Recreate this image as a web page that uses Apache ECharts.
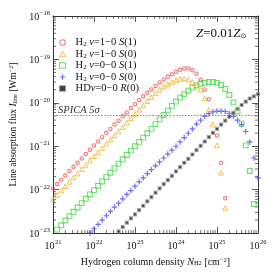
<!DOCTYPE html>
<html><head><meta charset="utf-8">
<script src="https://cdn.jsdelivr.net/npm/echarts@6/dist/echarts.min.js"></script>
<style>html,body{margin:0;padding:0;background:#fff}#c{width:273px;height:273px}</style>
</head><body><div id="c"></div>
<script>
// log10 of column density N_H2 [cm^-2] and log10 of line flux [W m^-2]
const nRed = [21.0,21.1,21.2,21.3,21.4,21.5,21.6,21.7,21.8,21.9,22.0,22.1,22.2,22.3,22.4,22.5,22.6,22.7,22.8,22.9,23.0,23.1,23.2,23.3,23.4,23.5,23.6,23.7,23.8,23.9,24.0,24.1,24.2,24.3,24.4,24.5,24.6,24.7,24.8,25.0,25.1,25.2];
const iRed = [-21.97,-21.87,-21.77,-21.67,-21.57,-21.47,-21.38,-21.28,-21.18,-21.08,-20.98,-20.89,-20.79,-20.69,-20.60,-20.50,-20.41,-20.31,-20.22,-20.12,-20.03,-19.94,-19.85,-19.77,-19.69,-19.61,-19.53,-19.46,-19.40,-19.34,-19.29,-19.24,-19.21,-19.21,-19.25,-19.33,-19.47,-19.69,-19.92,-20.75,-21.38,-22.20];

const nOrange = [21.0,21.1,21.2,21.3,21.4,21.5,21.6,21.7,21.8,21.9,22.0,22.1,22.2,22.3,22.4,22.5,22.6,22.7,22.8,22.9,23.0,23.1,23.2,23.3,23.4,23.5,23.6,23.7,23.8,23.9,24.0,24.1,24.2,24.3,24.4,24.5,24.6,24.7,24.8,24.9,25.0,25.1,25.2];
const iOrange = [-22.22,-22.12,-22.02,-21.92,-21.82,-21.72,-21.63,-21.53,-21.43,-21.33,-21.23,-21.14,-21.04,-20.94,-20.85,-20.75,-20.66,-20.56,-20.46,-20.36,-20.26,-20.16,-20.06,-19.96,-19.87,-19.78,-19.70,-19.63,-19.57,-19.52,-19.48,-19.45,-19.44,-19.46,-19.52,-19.60,-19.70,-19.90,-20.16,-20.50,-20.98,-21.61,-22.42];

const nGreen = [21.0,21.1,21.2,21.3,21.4,21.5,21.6,21.7,21.8,21.9,22.0,22.1,22.2,22.3,22.4,22.5,22.6,22.7,22.8,22.9,23.0,23.1,23.2,23.3,23.4,23.5,23.6,23.7,23.8,23.9,24.0,24.1,24.2,24.3,24.4,24.5,24.6,24.7,24.8,24.9,25.0,25.1,25.2,25.3,25.4,25.5,25.6,25.7,25.8,25.9];
const iGreen = [-23.02,-22.92,-22.82,-22.71,-22.61,-22.51,-22.41,-22.31,-22.21,-22.11,-22.01,-21.91,-21.81,-21.71,-21.61,-21.51,-21.40,-21.30,-21.20,-21.10,-21.00,-20.90,-20.80,-20.70,-20.60,-20.49,-20.38,-20.28,-20.18,-20.07,-19.97,-19.88,-19.80,-19.72,-19.65,-19.60,-19.56,-19.54,-19.52,-19.52,-19.54,-19.59,-19.68,-19.82,-19.99,-20.20,-20.48,-20.98,-21.57,-22.33];

const nBlue = [21.9,22.0,22.1,22.2,22.3,22.4,22.5,22.6,22.7,22.8,22.9,23.0,23.1,23.2,23.3,23.4,23.5,23.6,23.7,23.8,23.9,24.0,24.1,24.2,24.3,24.4,24.5,24.6,24.7,24.8,24.9,25.0,25.1,25.2,25.3,25.4,25.5,25.6,25.7,25.8,25.9,26.0];
const iBlue = [-23.00,-22.90,-22.80,-22.70,-22.60,-22.50,-22.40,-22.31,-22.21,-22.11,-22.02,-21.92,-21.82,-21.73,-21.63,-21.54,-21.45,-21.36,-21.27,-21.18,-21.09,-21.00,-20.90,-20.80,-20.70,-20.60,-20.49,-20.40,-20.31,-20.25,-20.21,-20.19,-20.19,-20.20,-20.24,-20.31,-20.40,-20.50,-20.66,-20.90,-21.27,-21.73];

const nBlack = [22.6,22.7,22.8,22.9,23.0,23.1,23.2,23.3,23.4,23.5,23.6,23.7,23.8,23.9,24.0,24.1,24.2,24.3,24.4,24.5,24.6,24.7,24.8,24.9,25.0,25.1,25.2,25.3,25.4,25.5,25.6,25.7,25.8,25.9,26.0];
const iBlack = [-22.96,-22.86,-22.76,-22.66,-22.57,-22.47,-22.37,-22.27,-22.17,-22.07,-21.97,-21.87,-21.78,-21.68,-21.58,-21.48,-21.38,-21.29,-21.19,-21.09,-20.99,-20.89,-20.79,-20.69,-20.60,-20.50,-20.41,-20.32,-20.23,-20.14,-20.05,-19.97,-19.90,-19.85,-19.80];

const seriesNames = ['h2_10_S1','h2_10_S0','h2_00_S1','h2_00_S0','hd_00_R0'];
const legendLabels = {
  'h2_10_S1': 'H{sub|2} {i|v}=1\u22120 {i|S}(1)',
  'h2_10_S0': 'H{sub|2} {i|v}=1\u22120 {i|S}(0)',
  'h2_00_S1': 'H{sub|2} {i|v}=0\u22120 {i|S}(1)',
  'h2_00_S0': 'H{sub|2} {i|v}=0\u22120 {i|S}(0)',
  'hd_00_R0': 'HD{i|v}=0\u22120 {i|R}(0)'
};
const spicaLimitLog = -20.28;   // log10(5.2e-21)
const xMinExp = 21, xMaxExp = 26, yMinExp = -23, yMaxExp = -18;

const FONT = 'Liberation Serif';
const AX = '#333';

function toPts(nArr, iArr){ return nArr.map((n,k)=>[n, iArr[k]]); }

// minor tick positions (2..9 times each decade) in log space
const minorX = [], minorY = [];
for (let d = xMinExp; d < xMaxExp; d++) for (let m = 2; m <= 9; m++) minorX.push([d + Math.log10(m), -20]);
for (let d = yMinExp; d < yMaxExp; d++) for (let m = 2; m <= 9; m++) minorY.push([23, d + Math.log10(m)]);

const supFmt = v => { const e = Math.round(v); return '{b|10}{s|' + (e<0 ? '\u2212' + (-e) : e) + '}'; };
const labRich = {
  b: {fontFamily: FONT, fontSize: 10, color: '#111', lineHeight: 12, verticalAlign:'bottom'},
  s: {fontFamily: FONT, fontSize: 6.5, color: '#111', lineHeight: 12, verticalAlign:'top', padding:[0,0,0,0.5]}
};
const nameRich = (fs) => ({
  i: {fontFamily: FONT, fontSize: fs, fontStyle: 'italic', color:'#111'},
  sub: {fontFamily: FONT, fontSize: fs*0.65, color:'#111', verticalAlign:'bottom', lineHeight: 10, padding:[4,0,0,0]},
  sup: {fontFamily: FONT, fontSize: fs*0.65, color:'#111', verticalAlign:'top', lineHeight: 10, padding:[0,0,4,0]}
});

function axisCommon(extra){
  return Object.assign({
    type: 'value', interval: 1,
    axisLine: {show: true, onZero: false, lineStyle: {color: AX, width: 1}},
    axisTick: {show: true, inside: true, length: 6, lineStyle: {color: AX, width: 0.8}},
    splitLine: {show: false}
  }, extra);
}

const minorRender = (horizontal) => function(params, api){
  const st = {stroke: AX, lineWidth: 0.7};
  if (horizontal) {
    const x = api.value(0);
    const pb = api.coord([x, yMinExp]), pt = api.coord([x, yMaxExp]);
    return {type:'group', children:[
      {type:'line', shape:{x1:pb[0],y1:pb[1],x2:pb[0],y2:pb[1]-3}, style:st},
      {type:'line', shape:{x1:pt[0],y1:pt[1],x2:pt[0],y2:pt[1]+3}, style:st}]};
  } else {
    const y = api.value(1);
    const pl = api.coord([xMinExp, y]), pr = api.coord([xMaxExp, y]);
    return {type:'group', children:[
      {type:'line', shape:{x1:pl[0],y1:pl[1],x2:pl[0]+3,y2:pl[1]}, style:st},
      {type:'line', shape:{x1:pr[0],y1:pr[1],x2:pr[0]-3,y2:pr[1]}, style:st}]};
  }
};

const cRed='#f25555', cOrange='#f4b020', cGreen='#4ad84a', cBlue='#4c4cf2';
const plusPath = 'path://M0,5H10M5,0V10';

const option = {
  animation: false,
  backgroundColor: '#fff',
  grid: {left: 49, right: 15, top: 16, bottom: 33, containLabel: false},
  xAxis: [
    axisCommon({position:'bottom', min: xMinExp, max: xMaxExp,
      axisLabel: {formatter: supFmt, rich: labRich, margin: 6},
      name: 'Hydrogen column density {i|N}{sub|H2} [cm{sup|\u22122}]', nameLocation:'middle', nameGap: 21,
      nameTextStyle: {fontFamily: FONT, fontSize: 10, color:'#111', rich: nameRich(10)}}),
    axisCommon({position:'top', min: xMinExp, max: xMaxExp, axisLabel:{show:false}})
  ],
  yAxis: [
    axisCommon({position:'left', min: yMinExp, max: yMaxExp,
      axisLabel: {formatter: supFmt, rich: labRich, margin: 3},
      name: 'Line absorption flux {i|I}{sub|line} [Wm{sup|\u22122}]', nameLocation:'middle', nameGap: 35, nameRotate: 90,
      nameTextStyle: {fontFamily: FONT, fontSize: 9.5, color:'#111', rich: nameRich(9.5)}}),
    axisCommon({position:'right', min: yMinExp, max: yMaxExp, axisLabel:{show:false}})
  ],
  legend: {
    orient: 'vertical', left: 54, top: 32, itemWidth: 6, itemHeight: 5.5, itemGap: 0.5,
    data: [
      {name: seriesNames[0], itemStyle:{color:'transparent', borderColor:cRed, borderWidth:1.1}},
      {name: seriesNames[1], itemStyle:{color:'transparent', borderColor:cOrange, borderWidth:1}},
      {name: seriesNames[2], itemStyle:{color:'transparent', borderColor:cGreen, borderWidth:1.1}},
      {name: seriesNames[3], itemStyle:{color:'transparent', borderColor:cBlue, borderWidth:1.2}},
      {name: seriesNames[4], itemStyle:{color:'#111', borderColor:'#999', borderWidth:1}}
    ],
    formatter: n => legendLabels[n],
    textStyle: {fontFamily: FONT, fontSize: 10.5, lineHeight: 11, color:'#111', padding:[0,0,0,5],
      rich: {i:{fontFamily:FONT, fontSize:10.5, lineHeight: 11, fontStyle:'italic', color:'#111'},
             sub:{fontFamily:FONT, fontSize:7, lineHeight: 11, color:'#111', verticalAlign:'bottom'}}}
  },
  graphic: [
    {type:'text', left: 196, top: 27, style:{
      text: '{i|Z}=0.01{i|Z}{sub|\u2299}', fontFamily: FONT, fontSize: 13, fill:'#111',
      rich:{i:{fontFamily:FONT, fontSize:13, fontStyle:'italic', fill:'#111'},
            sub:{fontFamily:'DejaVu Sans', fontSize:7, fill:'#111', verticalAlign:'bottom', padding:[6,0,0,0]}}}},
    {type:'text', left: 58, top: 105, style:{
      text: 'SPICA 5\u03c3', fontFamily: FONT, fontStyle:'italic', fontSize: 10.5, fill:'#333'}}
  ],
  series: [
    {type:'custom', coordinateSystem:'cartesian2d', renderItem: minorRender(true), data: minorX, silent:true, clip:false, z:1},
    {type:'custom', coordinateSystem:'cartesian2d', renderItem: minorRender(false), data: minorY, silent:true, clip:false, z:1},
    {name: seriesNames[4], type:'scatter', data: toPts(nBlack, iBlack), symbol:'rect', symbolSize: 3,
      itemStyle:{color:'#111', borderColor:'#a0a0a0', borderWidth:1.2}, z:2,
      markLine: {silent:true, symbol:['none','none'], lineStyle:{color:'#666', type:[1.5,1.5], width:0.8},
        label:{show:false}, data:[{yAxis: spicaLimitLog}]}},
    {name: seriesNames[3], type:'scatter', data: toPts(nBlue, iBlue), symbol: plusPath, symbolSize: 5.5,
      itemStyle:{color:'none', borderColor:cBlue, borderWidth:1.2}, z:3},
    {name: seriesNames[2], type:'scatter', data: toPts(nGreen, iGreen), symbol:'rect', symbolSize: 4.8,
      itemStyle:{color:'transparent', borderColor:cGreen, borderWidth:1.1}, z:3},
    {name: seriesNames[1], type:'scatter', data: toPts(nOrange, iOrange), symbol:'triangle', symbolSize: 4.6,
      itemStyle:{color:'transparent', borderColor:cOrange, borderWidth:1}, z:4},
    {name: seriesNames[0], type:'scatter', data: toPts(nRed, iRed), symbol:'circle', symbolSize: 3.4,
      itemStyle:{color:'transparent', borderColor:cRed, borderWidth:1.1}, z:5}
  ]
};
const chart = echarts.init(document.getElementById('c'), null, {renderer:'canvas'});
chart.setOption(option);
</script></body></html>
